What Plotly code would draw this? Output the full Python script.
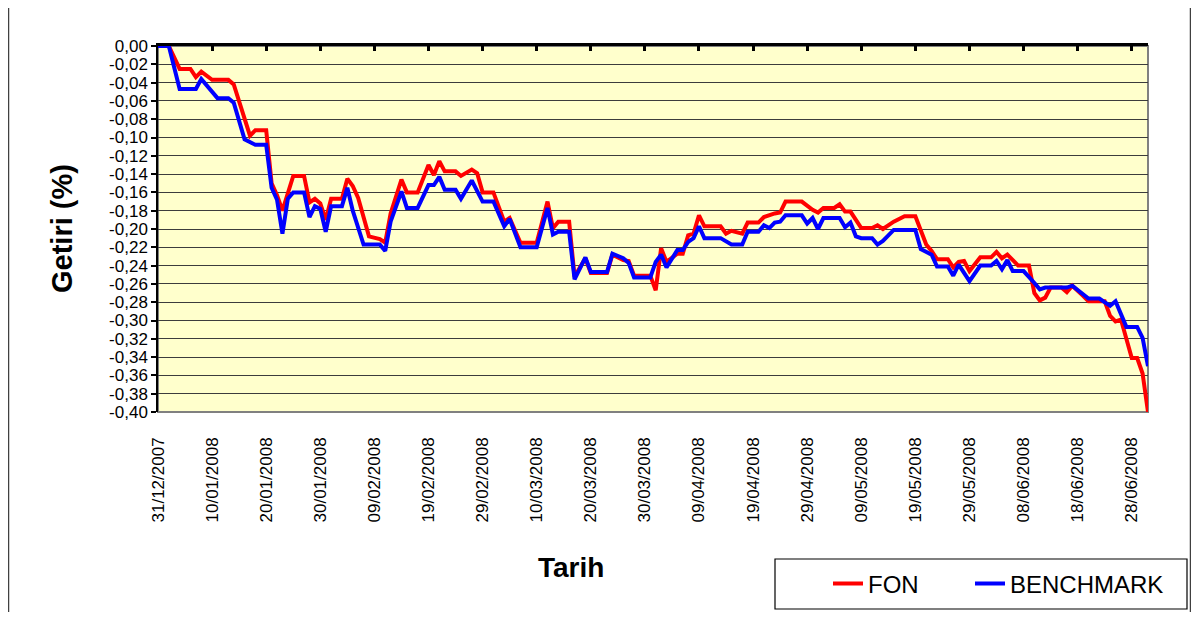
import plotly.graph_objects as go

# ---------------- data ----------------
fon_dates = [
    "2007-12-31", "2008-01-02", "2008-01-04", "2008-01-06", "2008-01-07", "2008-01-08", "2008-01-10",
    "2008-01-13", "2008-01-14", "2008-01-17", "2008-01-18", "2008-01-20", "2008-01-21", "2008-01-22",
    "2008-01-23", "2008-01-25", "2008-01-27", "2008-01-28", "2008-01-29", "2008-01-30", "2008-01-31",
    "2008-02-01", "2008-02-03", "2008-02-04", "2008-02-05", "2008-02-06", "2008-02-08", "2008-02-10",
    "2008-02-11", "2008-02-12", "2008-02-14", "2008-02-15", "2008-02-17", "2008-02-19", "2008-02-20",
    "2008-02-21", "2008-02-22", "2008-02-24", "2008-02-25", "2008-02-27", "2008-02-28", "2008-02-29",
    "2008-03-02", "2008-03-04", "2008-03-05", "2008-03-07", "2008-03-10", "2008-03-12", "2008-03-13",
    "2008-03-14", "2008-03-16", "2008-03-17", "2008-03-19", "2008-03-20", "2008-03-23", "2008-03-24",
    "2008-03-26", "2008-03-27", "2008-03-28", "2008-03-31", "2008-04-01", "2008-04-02", "2008-04-03",
    "2008-04-05", "2008-04-06", "2008-04-07", "2008-04-08", "2008-04-09", "2008-04-10", "2008-04-13",
    "2008-04-14", "2008-04-15", "2008-04-17", "2008-04-18", "2008-04-20", "2008-04-21", "2008-04-23",
    "2008-04-24", "2008-04-25", "2008-04-28", "2008-04-30", "2008-05-01", "2008-05-02", "2008-05-04",
    "2008-05-05", "2008-05-06", "2008-05-07", "2008-05-09", "2008-05-11", "2008-05-12", "2008-05-13",
    "2008-05-15", "2008-05-17", "2008-05-19", "2008-05-21", "2008-05-22", "2008-05-23", "2008-05-25",
    "2008-05-26", "2008-05-27", "2008-05-28", "2008-05-29", "2008-05-31", "2008-06-02", "2008-06-03",
    "2008-06-04", "2008-06-05", "2008-06-07", "2008-06-09", "2008-06-10", "2008-06-11", "2008-06-12",
    "2008-06-13", "2008-06-15", "2008-06-16", "2008-06-17", "2008-06-19", "2008-06-20", "2008-06-23",
    "2008-06-24", "2008-06-25", "2008-06-26", "2008-06-28", "2008-06-29", "2008-06-30", "2008-07-01",
]
fon_values = [
    0.000, 0.000, -0.025, -0.025, -0.034, -0.028, -0.037,
    -0.037, -0.042, -0.098, -0.092, -0.092, -0.150, -0.163,
    -0.180, -0.142, -0.142, -0.171, -0.167, -0.172, -0.190,
    -0.167, -0.167, -0.145, -0.153, -0.166, -0.208, -0.211,
    -0.215, -0.183, -0.146, -0.160, -0.160, -0.130, -0.141,
    -0.126, -0.137, -0.137, -0.142, -0.135, -0.139, -0.160,
    -0.160, -0.192, -0.188, -0.215, -0.215, -0.170, -0.199,
    -0.192, -0.192, -0.252, -0.232, -0.248, -0.248, -0.228,
    -0.234, -0.235, -0.251, -0.251, -0.267, -0.221, -0.236,
    -0.227, -0.227, -0.207, -0.205, -0.185, -0.197, -0.197,
    -0.205, -0.202, -0.205, -0.193, -0.193, -0.187, -0.183,
    -0.182, -0.170, -0.170, -0.179, -0.182, -0.177, -0.177,
    -0.173, -0.181, -0.181, -0.199, -0.199, -0.196, -0.200,
    -0.192, -0.186, -0.186, -0.217, -0.224, -0.233, -0.233,
    -0.242, -0.236, -0.235, -0.246, -0.231, -0.231, -0.225,
    -0.232, -0.228, -0.240, -0.240, -0.270, -0.278, -0.275,
    -0.264, -0.264, -0.269, -0.262, -0.273, -0.279, -0.279,
    -0.295, -0.301, -0.299, -0.341, -0.341, -0.358, -0.400,
]

bm_dates = [
    "2007-12-31", "2008-01-02", "2008-01-04", "2008-01-07", "2008-01-08", "2008-01-11", "2008-01-13",
    "2008-01-14", "2008-01-16", "2008-01-18", "2008-01-20", "2008-01-21", "2008-01-22", "2008-01-23",
    "2008-01-24", "2008-01-25", "2008-01-27", "2008-01-28", "2008-01-29", "2008-01-30", "2008-01-31",
    "2008-02-01", "2008-02-03", "2008-02-04", "2008-02-05", "2008-02-06", "2008-02-07", "2008-02-10",
    "2008-02-11", "2008-02-12", "2008-02-14", "2008-02-15", "2008-02-17", "2008-02-19", "2008-02-20",
    "2008-02-21", "2008-02-22", "2008-02-24", "2008-02-25", "2008-02-27", "2008-02-29", "2008-03-02",
    "2008-03-04", "2008-03-05", "2008-03-07", "2008-03-10", "2008-03-12", "2008-03-13", "2008-03-14",
    "2008-03-16", "2008-03-17", "2008-03-19", "2008-03-20", "2008-03-23", "2008-03-24", "2008-03-26",
    "2008-03-27", "2008-03-28", "2008-03-31", "2008-04-01", "2008-04-02", "2008-04-03", "2008-04-05",
    "2008-04-06", "2008-04-07", "2008-04-08", "2008-04-09", "2008-04-10", "2008-04-13", "2008-04-15",
    "2008-04-17", "2008-04-18", "2008-04-20", "2008-04-21", "2008-04-22", "2008-04-23", "2008-04-24",
    "2008-04-25", "2008-04-28", "2008-04-29", "2008-04-30", "2008-05-01", "2008-05-02", "2008-05-05",
    "2008-05-06", "2008-05-07", "2008-05-08", "2008-05-09", "2008-05-11", "2008-05-12", "2008-05-13",
    "2008-05-15", "2008-05-19", "2008-05-20", "2008-05-22", "2008-05-23", "2008-05-25", "2008-05-26",
    "2008-05-27", "2008-05-29", "2008-05-31", "2008-06-02", "2008-06-03", "2008-06-04", "2008-06-05",
    "2008-06-06", "2008-06-08", "2008-06-10", "2008-06-11", "2008-06-12", "2008-06-16", "2008-06-17",
    "2008-06-19", "2008-06-20", "2008-06-22", "2008-06-24", "2008-06-25", "2008-06-27", "2008-06-29",
    "2008-06-30", "2008-07-01",
]
bm_values = [
    0.000, 0.000, -0.047, -0.047, -0.036, -0.057, -0.057,
    -0.062, -0.102, -0.108, -0.108, -0.155, -0.168, -0.205,
    -0.167, -0.160, -0.160, -0.187, -0.175, -0.178, -0.203,
    -0.175, -0.175, -0.155, -0.180, -0.198, -0.217, -0.217,
    -0.224, -0.192, -0.159, -0.177, -0.177, -0.152, -0.152,
    -0.143, -0.157, -0.157, -0.167, -0.147, -0.170, -0.170,
    -0.197, -0.189, -0.220, -0.220, -0.177, -0.206, -0.203,
    -0.203, -0.255, -0.231, -0.247, -0.247, -0.227, -0.232,
    -0.237, -0.253, -0.253, -0.236, -0.228, -0.242, -0.223,
    -0.223, -0.214, -0.210, -0.197, -0.210, -0.210, -0.217,
    -0.217, -0.203, -0.203, -0.196, -0.199, -0.193, -0.192,
    -0.185, -0.185, -0.194, -0.188, -0.200, -0.188, -0.188,
    -0.198, -0.193, -0.208, -0.210, -0.210, -0.217, -0.213,
    -0.201, -0.201, -0.222, -0.228, -0.241, -0.241, -0.251,
    -0.239, -0.257, -0.240, -0.240, -0.235, -0.244, -0.234,
    -0.246, -0.246, -0.259, -0.266, -0.264, -0.264, -0.262,
    -0.272, -0.276, -0.276, -0.284, -0.279, -0.307, -0.307,
    -0.319, -0.350,
]

series_names = ["FON", "BENCHMARK"]
series_colors = ["#FF0000", "#0000FF"]

y_ticks = [round(-0.02 * i, 2) for i in range(21)]
y_tick_labels = [("-" if v < 0 else "") + f"{abs(v):.2f}".replace(".", ",") for v in y_ticks]

x_start = "2007-12-31"
x_end = "2008-07-01"
x_title = "Tarih"
y_title = "Getiri (%)"

FONT = "Arial, 'Liberation Sans', sans-serif"
DAY_MS = 86400000

# the page puts the figure 8px from its top-left corner; keep it inside the window
OFF = 8
W, H = 1199 - 2 * OFF, 620 - 2 * OFF
PL, PR, PT, PB = 158, 1148, 46, 412          # plot area in page pixels
L, R, T, B = PL - OFF, W - (PR - OFF), PT - OFF, H - (PB - OFF)
pw, ph = PR - PL, PB - PT


def px_x(px):
    return (px - PL) / pw


def px_y(py):
    return (PB - py) / ph


def cx(px):
    return (px - OFF) / W


def cy(py):
    return 1 - (py - OFF) / H


fig = go.Figure()
fig.add_trace(go.Scatter(
    x=fon_dates, y=fon_values, mode="lines", name=series_names[0],
    line=dict(color=series_colors[0], width=4), xaxis="x", yaxis="y",
    legend="legend",
))
fig.add_trace(go.Scatter(
    x=bm_dates, y=bm_values, mode="lines", name=series_names[1],
    line=dict(color=series_colors[1], width=4), xaxis="x2", yaxis="y",
    legend="legend2",
))

legend_common = dict(
    orientation="h", bgcolor="rgba(0,0,0,0)", borderwidth=0,
    font=dict(size=24, family=FONT, color="black"), itemwidth=30,
    yanchor="middle", xanchor="left", xref="container", yref="container",
)

fig.update_layout(
    width=W, height=H,
    margin=dict(l=L, r=R, t=T, b=B, autoexpand=False),
    paper_bgcolor="white",
    plot_bgcolor="#FFFFCC",
    font=dict(family=FONT, color="black"),
    xaxis=dict(
        type="date", range=[x_start, x_end],
        tick0=x_start, dtick=10 * DAY_MS, tickformat="%d/%m/%Y",
        tickangle=-90, showgrid=False, showline=False, zeroline=False,
        ticks="", tickfont=dict(size=17, family=FONT, color="black"),
        ticklabelstandoff=21,
    ),
    xaxis2=dict(
        type="date", overlaying="x", matches="x", side="top",
        tick0=x_start, dtick=10 * DAY_MS,
        showline=True, linecolor="black", linewidth=3,
        ticks="inside", ticklen=5, tickwidth=3, tickcolor="black",
        showticklabels=False, showgrid=False, zeroline=False,
    ),
    yaxis=dict(
        range=[-0.40, 0.0], tickvals=y_ticks, ticktext=y_tick_labels,
        showgrid=True, gridcolor="#3c3c3c", gridwidth=1.3,
        showline=True, linecolor="black", linewidth=1.5,
        ticks="outside", ticklen=5, tickcolor="black", tickwidth=1.5,
        zeroline=False, tickfont=dict(size=17, family=FONT, color="black"),
    ),
    showlegend=True,
    legend=dict(legend_common, x=cx(828), y=cy(584)),
    legend2=dict(legend_common, x=cx(970), y=cy(584)),
    shapes=[
        dict(type="rect", xref="paper", yref="paper", x0=0, x1=1, y0=0, y1=1,
             line=dict(color="#808080", width=2), layer="below"),
        dict(type="rect", xref="paper", yref="paper",
             x0=px_x(8.5), x1=px_x(1190.5), y0=px_y(640), y1=px_y(-20),
             line=dict(color="#404040", width=1.5), layer="below"),
        dict(type="rect", xref="paper", yref="paper",
             x0=px_x(775), x1=px_x(1187), y0=px_y(609), y1=px_y(559),
             line=dict(color="black", width=1.2), layer="above"),
    ],
    annotations=[
        dict(text=f"<b>{y_title}</b>", xref="paper", yref="paper",
             x=px_x(62), y=px_y(229), xanchor="center", yanchor="middle",
             textangle=-90, showarrow=False,
             font=dict(size=29, family=FONT, color="black")),
        dict(text=f"<b>{x_title}</b>", xref="paper", yref="paper",
             x=px_x(571), y=px_y(567), xanchor="center", yanchor="middle",
             showarrow=False,
             font=dict(size=28, family=FONT, color="black")),
    ],
)

fig.write_html("out.html")
